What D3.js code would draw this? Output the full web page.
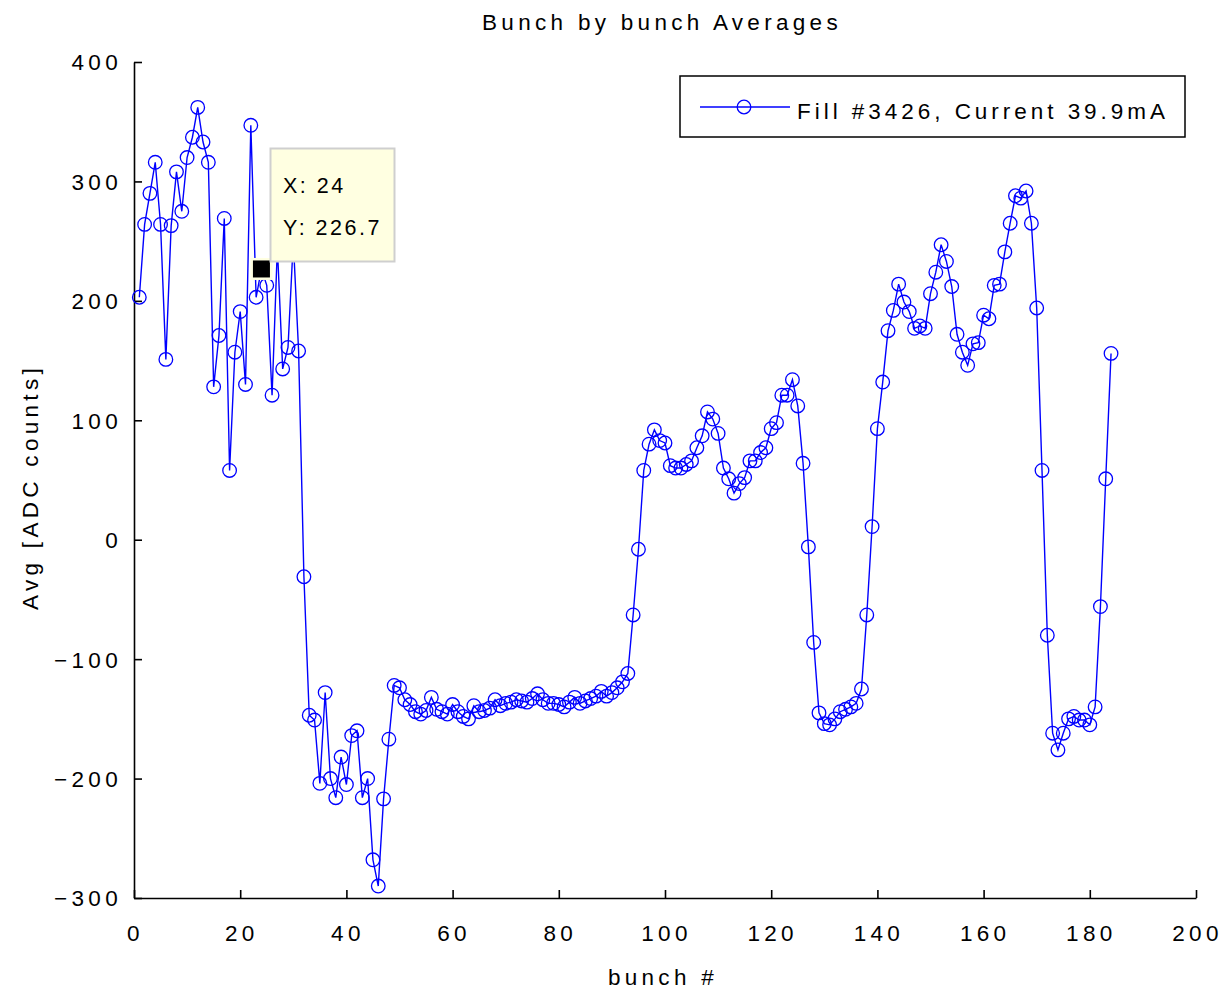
<!DOCTYPE html>
<html>
<head>
<meta charset="utf-8">
<script src="https://cdn.jsdelivr.net/npm/d3@7"></script>
<style>
  html, body { margin: 0; padding: 0; background: #fff; }
  svg { display: block; }
  text { font-family: "Liberation Sans", Arial, sans-serif; fill: #000; }
</style>
</head>
<body>
<svg id="chart" width="1226" height="992"></svg>
<script>
// ---- data ----
const bunches = d3.range(1, 185);
const avgValues = [
  203, 264, 290, 316, 264, 151, 263, 308, 275, 320,
  337, 362, 333, 316, 128, 171, 269, 58, 157, 191,
  130, 347, 203, 226.7, 213, 121, 245, 143, 161, 250,
  158, -31, -147, -151, -204, -128, -200, -216, -182, -205,
  -164, -160, -216, -200, -268, -290, -217, -167, -122, -124,
  -134, -138, -144, -146, -143, -132, -142, -144, -146, -138,
  -144, -148, -150, -139, -144, -143, -141, -134, -139, -137,
  -136, -134, -135, -136, -133, -129, -134, -137, -137, -138,
  -140, -136, -132, -137, -135, -133, -131, -127, -131, -128,
  -124, -119, -112, -63, -8, 58, 80, 92, 83, 81,
  62, 60, 60, 63, 66, 77, 87, 107, 101, 89,
  60, 51, 39, 47, 52, 66, 66, 73, 77, 93,
  98, 121, 121, 134, 112, 64, -6, -86, -145, -154,
  -155, -150, -144, -142, -140, -137, -125, -63, 11, 93,
  132, 175, 192, 214, 199, 191, 177, 179, 177, 206,
  224, 247, 233, 212, 172, 157, 146, 164, 165, 188,
  185, 213, 214, 241, 265, 288, 286, 292, 265, 194,
  58, -80, -162, -176, -162, -150, -148, -151, -151, -155,
  -140, -56, 51, 156
];
const xTicks = [0, 20, 40, 60, 80, 100, 120, 140, 160, 180, 200];
const yTicks = [-300, -200, -100, 0, 100, 200, 300, 400];
const seriesName = "Fill #3426, Current 39.9mA";
const tipX = 24, tipY = 226.7;

const data = bunches.map((b, i) => ({ x: b, y: avgValues[i] }));

const svg = d3.select("#chart");
const x = d3.scaleLinear().domain([0, 200]).range([134, 1196]);
const y = d3.scaleLinear().domain([-300, 400]).range([898, 62]);
const blue = "#0000ff";
const LS = "4.3px";

// axes
const xAxis = d3.axisBottom(x).tickValues(xTicks).tickSizeInner(-8).tickSizeOuter(0).tickPadding(27);
const yAxis = d3.axisLeft(y).tickValues(yTicks).tickSizeInner(-8).tickSizeOuter(0).tickPadding(12);

const gx = svg.append("g").attr("transform", "translate(0,898)").call(xAxis);
const gy = svg.append("g").attr("transform", "translate(134,0)").call(yAxis);
[gx, gy].forEach(g => {
  g.select(".domain").attr("stroke", "#000").attr("stroke-width", 1.6);
  g.selectAll(".tick line").attr("stroke", "#000").attr("stroke-width", 1.6);
  g.selectAll(".tick text").attr("font-size", 22.5).attr("font-family", "Liberation Sans, Arial, sans-serif")
    .style("letter-spacing", LS).attr("fill", "#000");
});
gx.selectAll(".tick text").attr("dx", "1px");
gy.selectAll(".tick text").attr("dx", "0px").attr("dy", "0.35em");

// line and markers
const line = d3.line().x(d => x(d.x)).y(d => y(d.y));
svg.append("path").datum(data).attr("d", line)
  .attr("fill", "none").attr("stroke", blue).attr("stroke-width", 1.4);
svg.append("g").selectAll("circle").data(data).join("circle")
  .attr("cx", d => x(d.x)).attr("cy", d => y(d.y)).attr("r", 6.8)
  .attr("fill", "none").attr("stroke", blue).attr("stroke-width", 1.3);

// title & labels
svg.append("text").attr("x", 662).attr("y", 30).attr("text-anchor", "middle")
  .attr("font-size", 22.5).style("letter-spacing", LS).text("Bunch by bunch Averages");
svg.append("text").attr("x", 663).attr("y", 985).attr("text-anchor", "middle")
  .attr("font-size", 22.5).style("letter-spacing", LS).text("bunch #");
svg.append("text").attr("transform", "translate(38,487) rotate(-90)").attr("text-anchor", "middle")
  .attr("font-size", 22.5).style("letter-spacing", "4.3px").text("Avg [ADC counts]");

// legend
const lg = svg.append("g");
lg.append("rect").attr("x", 680).attr("y", 76).attr("width", 505).attr("height", 61)
  .attr("fill", "#fff").attr("stroke", "#000").attr("stroke-width", 1.5);
lg.append("line").attr("x1", 700).attr("x2", 790).attr("y1", 107).attr("y2", 107)
  .attr("stroke", blue).attr("stroke-width", 1.4);
lg.append("circle").attr("cx", 744).attr("cy", 107).attr("r", 6.8)
  .attr("fill", "none").attr("stroke", blue).attr("stroke-width", 1.3);
lg.append("text").attr("x", 797).attr("y", 119).attr("font-size", 22.5)
  .attr("textLength", 368).attr("lengthAdjust", "spacing").text(seriesName);

// data tip
const tg = svg.append("g");
tg.append("rect").attr("x", x(tipX) - 11).attr("y", y(tipY) - 11).attr("width", 22).attr("height", 22)
  .attr("fill", "#ffffe1");
tg.append("rect").attr("x", x(tipX) - 8.5).attr("y", y(tipY) - 8.5).attr("width", 17).attr("height", 17)
  .attr("fill", "#000");
tg.append("rect").attr("x", 270.5).attr("y", 148.5).attr("width", 124).attr("height", 113)
  .attr("fill", "#ffffe1").attr("stroke", "#cfcfcf").attr("stroke-width", 2);
tg.append("text").attr("x", 283).attr("y", 193).attr("font-size", 21.5).style("letter-spacing", "2.5px")
  .text("X: " + tipX);
tg.append("text").attr("x", 283).attr("y", 235).attr("font-size", 21.5).style("letter-spacing", "2.5px")
  .text("Y: " + tipY);
</script>
</body>
</html>
